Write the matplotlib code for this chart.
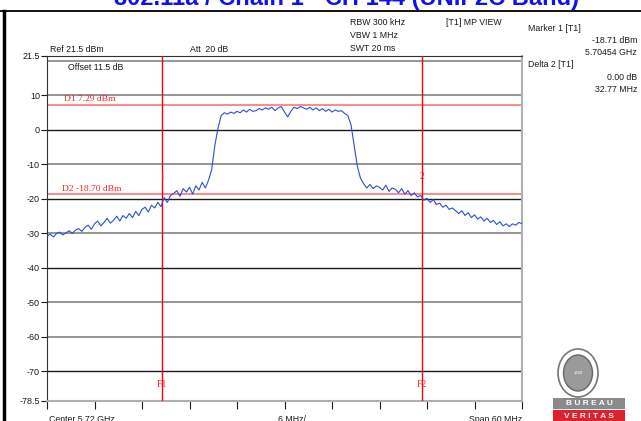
import numpy as np
import matplotlib.pyplot as plt
from matplotlib.patches import Ellipse, Rectangle

plt.rcParams['font.family'] = ['Liberation Sans', 'DejaVu Sans']

# sweep settings (MHz)
center = 5720.0
span = 60.0
n_pts = 151

# measured trace level (dBm), 0.4 MHz steps from 5690 to 5750 MHz
level = [
    -30.8, -30.2, -31.0, -30.0, -29.6, -30.4, -29.8, -29.2, -30.0, -29.0,
    -28.6, -29.4, -28.2, -27.6, -28.8, -27.2, -26.4, -27.8, -26.8, -25.6,
    -27.0, -26.2, -25.0, -26.4, -24.8, -25.6, -24.2, -25.4, -23.6, -24.8,
    -23.0, -22.4, -23.8, -21.8, -22.6, -21.0, -22.2,
    -19.6, -21.0, -19.0,
    -18.4, -17.6, -19.2, -17.0, -18.0, -16.6, -18.6, -16.2, -17.4, -15.2,
    -16.8, -14.6,
    -11.5, -4.5, 0.5, 4.2, 5.0, 4.6, 5.2, 4.8,
    5.4, 5.0, 5.8, 5.2, 6.0, 5.4, 5.6, 6.2, 5.8, 6.4,
    6.0, 6.6, 5.6, 6.4, 6.8, 5.2, 3.8, 5.4, 6.6, 6.2,
    6.8, 6.4, 6.0, 6.6, 5.8, 6.4, 5.6, 6.2, 5.4, 6.0,
    5.2, 5.8, 5.4, 5.6, 4.8, 4.2,
    1.5, -4.5, -10.5, -14.0,
    -15.6, -16.8, -15.8, -17.0, -16.2, -16.6, -17.4, -16.0, -17.8, -16.8,
    -17.2, -18.2, -17.0, -18.6, -17.6, -19.0, -18.2, -19.4, -19.0,
    -20.4,
    -19.8, -21.0, -20.2, -21.6, -21.2, -22.4, -21.8, -23.0, -22.6, -23.4,
    -24.2, -23.4, -24.8, -24.0, -25.4, -24.6, -25.8, -25.2, -26.4, -25.6,
    -26.8, -26.2, -27.4, -26.6, -27.8, -27.2, -28.0, -27.2, -27.6, -26.8,
    -27.2,
]

# display lines and frequency lines
d1 = 7.29
d2 = -18.70
f1 = 5704.54
f2 = 5737.31

ref_level = 21.5
bottom_level = -78.5
grid_levels = [20, 10, 0, -10, -20, -30, -40, -50, -60, -70]
grid_colors = ['#8c8c8c', '#8c8c8c', '#1a1a1a', '#8c8c8c', '#1a1a1a',
               '#8c8c8c', '#1a1a1a', '#8c8c8c', '#8c8c8c', '#1a1a1a']
ytick_vals = [21.5, 10, 0, -10, -20, -30, -40, -50, -60, -70, -78.5]
ytick_text = ['21.5', '10', '0', '-10', '-20', '-30', '-40', '-50', '-60',
              '-70', '-78.5']

freq = np.linspace(center - span / 2, center + span / 2, n_pts)

fig = plt.figure(figsize=(6.41, 4.21), dpi=100)
ax = fig.add_axes([47 / 641, 1 - 400.8 / 421, 475 / 641, 345 / 421])

for lv, c in zip(grid_levels, grid_colors):
    ax.axhline(lv, color=c, lw=1.3 if c != '#1a1a1a' else 1.0, zorder=1)

ax.axhline(d1, color='#ff8080', lw=1.3, zorder=2)
ax.axhline(d2, color='#ff8080', lw=1.3, zorder=2)
ax.axvline(f1, color='#ff0000', lw=1.0, zorder=3)
ax.axvline(f2, color='#ff0000', lw=1.0, zorder=3)

ax.plot(freq, level, color='#2a4fd6', lw=0.8, zorder=4)

ax.set_xlim(center - span / 2, center + span / 2)
ax.set_ylim(bottom_level, ref_level)
ax.set_yticks(ytick_vals)
ax.set_yticklabels(ytick_text)
ax.set_xticks(np.linspace(center - span / 2, center + span / 2, 11))
ax.set_xticklabels([])
ax.tick_params(axis='y', direction='out', length=4, width=0.8, pad=1,
               labelsize=6.5, colors='#1a1a1a')
ax.tick_params(axis='x', direction='out', length=6, width=0.8, pad=1,
               colors='#1a1a1a')
for side in ['top', 'left']:
    ax.spines[side].set_color('#333333')
for side in ['right', 'bottom']:
    ax.spines[side].set_color('#b0b0b0')
    ax.spines[side].set_linewidth(1.5)

serif = ['Liberation Serif', 'DejaVu Serif']
ax.text(5692.2, d1 + 0.5, 'D1 7.29 dBm', color='#ff2020', fontsize=6.8,
        family=serif, va='bottom')
ax.text(5691.9, d2 + 0.5, 'D2 -18.70 dBm', color='#ff2020', fontsize=6.8,
        family=serif, va='bottom')
ax.text(f1, -13.8, '1', color='#ff6060', fontsize=5.5, family=serif,
        ha='center', va='center')
ax.text(f2, -13.5, '2', color='#ff2020', fontsize=7, family=serif,
        ha='center', va='center')
ax.text(f1, -73.7, 'F1', color='#ff2020', fontsize=7, family=serif,
        ha='center', va='center')
ax.text(f2, -73.7, 'F2', color='#ff2020', fontsize=7, family=serif,
        ha='center', va='center')

# instrument annotations in pixel positions of the figure
def put(x, y, s, **kw):
    fig.text(x / 641, 1 - y / 421, s, fontsize=6.3, color='#1a1a1a',
             va='baseline', **kw)

put(50, 52, 'Ref 21.5 dBm')
put(190, 52, 'Att  20 dB')
put(350, 25, 'RBW 300 kHz')
put(350, 38, 'VBW 1 MHz')
put(350, 51, 'SWT 20 ms')
put(446, 25, '[T1] MP VIEW')
put(528, 31, 'Marker 1 [T1]')
put(637, 43, '-18.71 dBm', ha='right')
put(637, 55, '5.70454 GHz', ha='right')
put(528, 67, 'Delta 2 [T1]')
put(637, 80, '0.00 dB', ha='right')
put(637, 92, '32.77 MHz', ha='right')
put(68, 70, 'Offset 11.5 dB')
put(49, 422.5, 'Center 5.72 GHz')
put(292, 422.5, '6 MHz/', ha='center')
put(522, 422.5, 'Span 60 MHz', ha='right')

fig.text(346 / 641, 1 - 5.5 / 421, '802.11a / Chain 1 - CH 144 (UNII-2C Band)',
         fontsize=17, fontweight='bold', color='#1010f0', ha='center',
         va='baseline')

# page frame
fig.add_artist(plt.Line2D([0, 1], [1 - 11 / 421, 1 - 11 / 421],
                          color='black', lw=1.3))
fig.add_artist(plt.Line2D([4 / 641, 4 / 641], [0, 1 - 11 / 421],
                          color='black', lw=2.5))

# certification emblem
lg = fig.add_axes([540 / 641, 0, 101 / 641, 80 / 421])
lg.set_xlim(0, 101)
lg.set_ylim(80, 0)
lg.axis('off')
lg.add_patch(Ellipse((38, 32), 40, 48, fc='white', ec='#777777', lw=1.2))
lg.add_patch(Ellipse((38, 32), 29, 36, fc='#9a9a9a', ec='#666666', lw=1.0))
lg.text(38, 32, '1828', fontsize=3, color='white', ha='center', va='center')
lg.add_patch(Rectangle((13, 57), 72, 11, fc='#8a8a8a', ec='none'))
lg.add_patch(Rectangle((13, 69), 72, 11, fc='#e0202a', ec='none'))
lg.text(49, 62.5, 'B U R E A U', fontsize=6, color='white', ha='center',
        va='center', fontweight='bold')
lg.text(49, 75, 'V E R I T A S', fontsize=6, color='white', ha='center',
        va='center', fontweight='bold')

fig.savefig('out.png', dpi=100)
